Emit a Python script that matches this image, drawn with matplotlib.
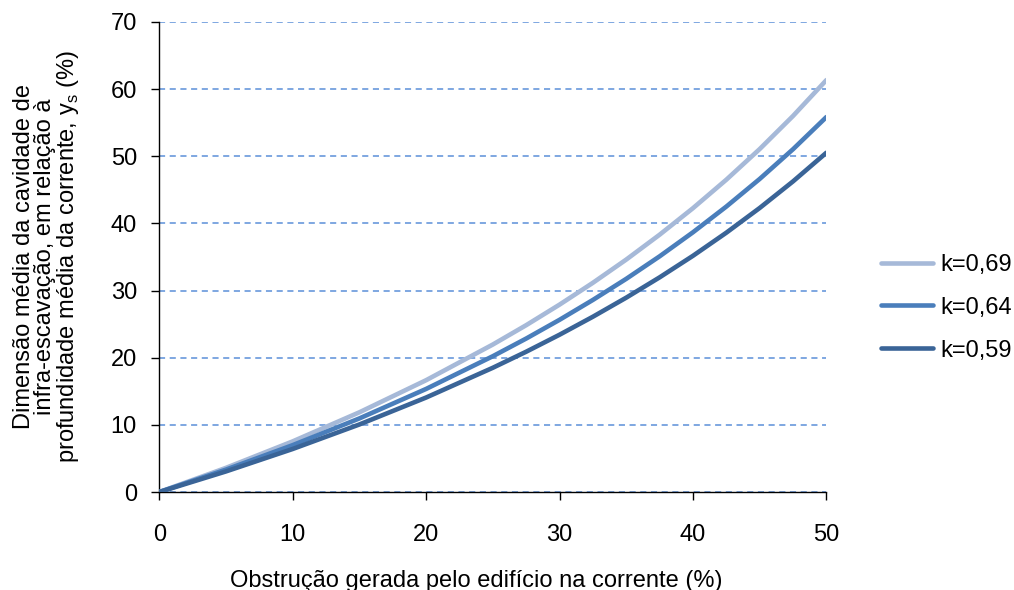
import matplotlib
matplotlib.use('Agg')
import matplotlib.pyplot as plt

plt.rcParams['font.family'] = ['Liberation Sans', 'DejaVu Sans']

# obstrução (%)
obstrucao = [0, 5, 10, 15, 20, 25, 27.5, 30, 32.5, 35, 37.5, 40, 42.5, 45, 47.5, 50]

# y_s (%) para cada k
ys_069 = [0, 3.60, 7.54, 11.87, 16.65, 21.96, 24.84, 27.90, 31.15, 34.61, 38.31,
          42.26, 46.50, 51.06, 55.99, 61.33]
ys_064 = [0, 3.34, 6.98, 10.96, 15.35, 20.22, 22.85, 25.64, 28.60, 31.74, 35.09,
          38.67, 42.50, 46.61, 51.04, 55.83]
ys_059 = [0, 3.07, 6.41, 10.06, 14.07, 18.50, 20.89, 23.42, 26.10, 28.94, 31.96,
          35.17, 38.61, 42.29, 46.25, 50.52]

series = [('k=0,69', ys_069, '#A6B9D8'),
          ('k=0,64', ys_064, '#4A7EBB'),
          ('k=0,59', ys_059, '#3A6497')]

fig = plt.figure(figsize=(10.14, 5.9), dpi=100)
ax = fig.add_axes([0.157, 0.166, 0.658, 0.797])

for lab, ys, col in series:
    ax.plot(obstrucao, ys, color=col, lw=3.3, label=lab,
            solid_capstyle='round', solid_joinstyle='round', zorder=3)

ax.set_xlim(0, 50)
ax.set_ylim(0, 70)
ax.set_xticks(range(0, 51, 10))
ax.set_yticks(range(0, 71, 10))
ax.yaxis.grid(True, color='#5B8FD8', ls=(0, (4, 3)), lw=1.1)
ax.set_axisbelow(True)
for s in ['top', 'right']:
    ax.spines[s].set_visible(False)
for s in ['left', 'bottom']:
    ax.spines[s].set_linewidth(1.0)
ax.tick_params(labelsize=17, length=6, width=1.0, direction='out')
ax.tick_params(axis='y', pad=10)
ax.tick_params(axis='x', pad=17)

ax.set_xlabel('Obstrução gerada pelo edifício na corrente (%)', fontsize=17, labelpad=17)
ax.xaxis.label.set_x(0.475)
ax.set_ylabel('Dimensão média da cavidade de\ninfra-escavação, em relação à\n'
              'profundidade média da corrente, y$_\\mathregular{s}$ (%)',
              fontsize=17, labelpad=21, linespacing=0.95)

ax.legend(loc='center left', bbox_to_anchor=(1.0675, 0.392), frameon=False,
          fontsize=17, handlelength=2.2, handletextpad=0.3, labelspacing=0.88,
          borderaxespad=0)

fig.savefig('out.png', dpi=100)
